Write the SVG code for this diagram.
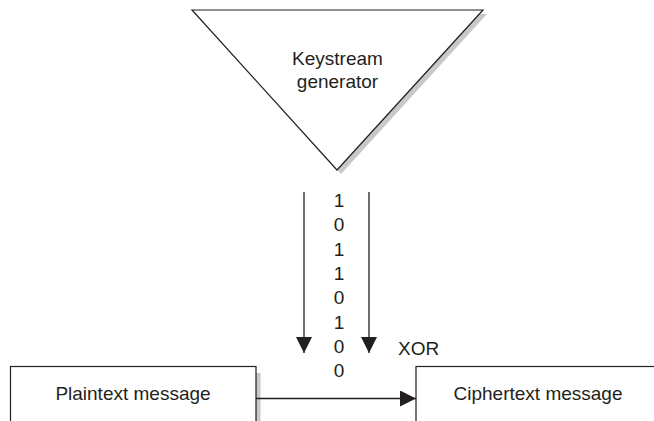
<svg xmlns="http://www.w3.org/2000/svg" width="654" height="421" viewBox="0 0 654 421">
<style>
text{font-family:"Liberation Sans",Arial,sans-serif;font-size:19px;fill:#231f20}
.c{text-anchor:middle}
.box{fill:#fff;stroke:#231f20;stroke-width:1.2}
.sh{fill:#c8c8c8}
.ln{stroke:#231f20;stroke-width:1.3;fill:none}
</style>
<defs>
<marker id="ah" viewBox="0 0 16 16" refX="16" refY="8" markerWidth="16" markerHeight="16" markerUnits="userSpaceOnUse" orient="auto">
<path d="M0,0 L16,8 L0,16 Z" fill="#231f20"/>
</marker>
</defs>
<rect width="654" height="421" fill="#fff"/>
<g id="keystream-generator">
<polygon class="sh" points="196,14 487,14 341,174"/>
<polygon class="box" points="192,10 483,10 337,170"/>
<text class="c" x="337.5" y="65">Keystream</text>
<text class="c" x="337.5" y="88">generator</text>
</g>
<g id="bits">
<text class="c" x="339" y="207">1</text>
<text class="c" x="339" y="231.3">0</text>
<text class="c" x="339" y="255.6">1</text>
<text class="c" x="339" y="279.9">1</text>
<text class="c" x="339" y="304.2">0</text>
<text class="c" x="339" y="328.5">1</text>
<text class="c" x="339" y="352.8">0</text>
<text class="c" x="339" y="377">0</text>
<text x="398" y="355">XOR</text>
</g>
<g id="plaintext">
<rect class="sh" x="256" y="373" width="4.5" height="60"/>
<rect class="box" x="10.5" y="366.5" width="245.5" height="70"/>
<text class="c" x="133" y="400">Plaintext message</text>
</g>
<g id="ciphertext">
<rect class="box" x="416" y="366.5" width="250" height="70"/>
<text class="c" x="538" y="400">Ciphertext message</text>
</g>
<g id="connectors">
<line class="ln" x1="304" y1="192" x2="304" y2="353" marker-end="url(#ah)"/>
<line class="ln" x1="369" y1="192" x2="369" y2="353" marker-end="url(#ah)"/>
<line class="ln" x1="256" y1="398.5" x2="416" y2="398.5" marker-end="url(#ah)"/>
</g>
</svg>
